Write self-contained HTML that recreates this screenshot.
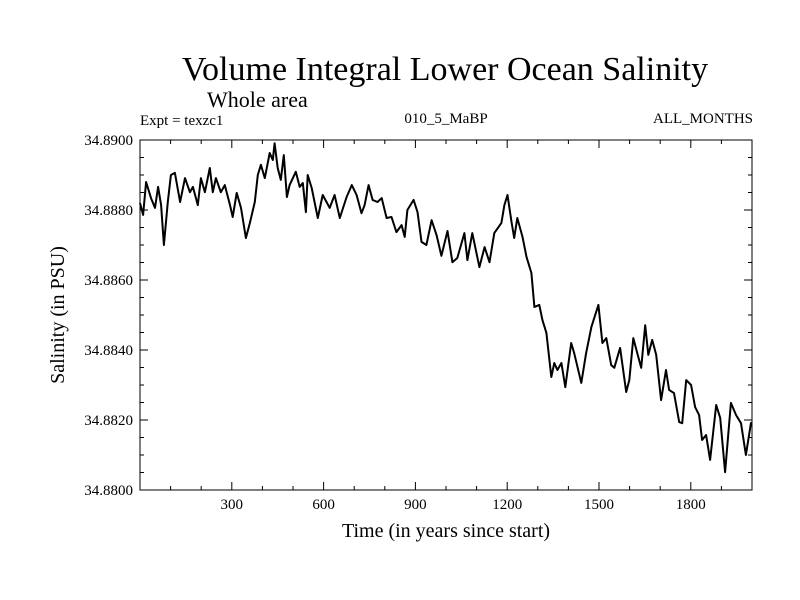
<!DOCTYPE html>
<html><head><meta charset="utf-8"><style>
body{margin:0;background:#fff}
svg{display:block;font-family:"Liberation Serif",serif}
</style></head><body>
<svg id="chart" width="800" height="600" viewBox="0 0 800 600">
<rect width="800" height="600" fill="#fff"/>
<text x="445" y="80" font-size="34" text-anchor="middle">Volume Integral Lower Ocean Salinity</text>
<text x="207" y="107" font-size="22">Whole area</text>
<text x="140" y="125" font-size="15">Expt = texzc1</text>
<text x="446" y="123" font-size="15" text-anchor="middle">010_5_MaBP</text>
<text x="753" y="123" font-size="15" text-anchor="end">ALL_MONTHS</text>
<text x="446" y="537" font-size="20" text-anchor="middle">Time (in years since start)</text>
<text x="0" y="0" font-size="20" text-anchor="middle" transform="translate(64,315) rotate(-90)">Salinity (in PSU)</text>
<g id="axes"></g>
<path id="series" fill="none" stroke="#000" stroke-width="2" stroke-linejoin="round"/>
<rect x="140" y="140" width="612" height="350" fill="none" stroke="#000" stroke-width="1"/>
</svg>
<script>
const years=[0,10,20,36,49,59,69,78,91,101,114,131,147,163,173,189,199,212,228,238,248,264,277,294,303,316,330,346,359,375,385,395,408,424,434,440,450,460,470,480,489,509,522,532,542,548,561,581,597,620,636,653,675,692,708,724,734,747,760,776,790,806,822,838,855,865,874,894,907,920,936,953,969,985,1005,1021,1037,1060,1070,1086,1109,1126,1142,1158,1181,1191,1201,1214,1223,1233,1250,1263,1279,1289,1305,1315,1328,1344,1354,1364,1377,1390,1409,1419,1442,1458,1475,1498,1511,1524,1540,1550,1569,1589,1599,1612,1625,1638,1651,1661,1674,1687,1703,1719,1729,1745,1762,1772,1785,1801,1814,1827,1837,1850,1863,1883,1896,1912,1931,1948,1964,1980,1997];
const salinity=[34.88820,34.88786,34.88880,34.88834,34.88806,34.88866,34.88814,34.88700,34.88823,34.88900,34.88906,34.88823,34.88891,34.88851,34.88866,34.88814,34.88891,34.88851,34.88920,34.88851,34.88891,34.88851,34.88871,34.88814,34.88780,34.88849,34.88806,34.88720,34.88763,34.88823,34.88900,34.88929,34.88891,34.88963,34.88943,34.88991,34.88920,34.88886,34.88957,34.88837,34.88871,34.88909,34.88866,34.88877,34.88794,34.88900,34.88863,34.88777,34.88843,34.88806,34.88843,34.88777,34.88837,34.88871,34.88843,34.88791,34.88814,34.88871,34.88829,34.88823,34.88834,34.88777,34.88780,34.88737,34.88757,34.88723,34.88800,34.88829,34.88794,34.88709,34.88700,34.88771,34.88729,34.88669,34.88740,34.88651,34.88663,34.88734,34.88657,34.88734,34.88637,34.88694,34.88651,34.88734,34.88763,34.88814,34.88843,34.88766,34.88720,34.88777,34.88723,34.88666,34.88620,34.88523,34.88529,34.88486,34.88449,34.88323,34.88363,34.88343,34.88363,34.88294,34.88420,34.88391,34.88306,34.88391,34.88466,34.88529,34.88420,34.88434,34.88357,34.88349,34.88406,34.88280,34.88314,34.88434,34.88391,34.88349,34.88471,34.88386,34.88429,34.88386,34.88257,34.88343,34.88286,34.88277,34.88194,34.88191,34.88314,34.88300,34.88237,34.88214,34.88143,34.88157,34.88086,34.88243,34.88206,34.88051,34.88249,34.88214,34.88191,34.88100,34.88194];
const xTickLabels=[300,600,900,1200,1500,1800];
const yTickLabels=["34.8800","34.8820","34.8840","34.8860","34.8880","34.8900"];

const X0=140,X1=752,Y0=140,Y1=490,XMIN=0,XMAX=2000,YMIN=34.88,YMAX=34.89;
function xs(v){return X0+(v-XMIN)/(XMAX-XMIN)*(X1-X0);}
function ys(v){return Y1-(v-YMIN)/(YMAX-YMIN)*(Y1-Y0);}
const NS="http://www.w3.org/2000/svg";
const axes=document.getElementById('axes');
function line(x1,y1,x2,y2,name){
  const l=document.createElementNS(NS,'line');
  l.setAttribute('x1',x1);l.setAttribute('y1',y1);l.setAttribute('x2',x2);l.setAttribute('y2',y2);
  l.setAttribute('stroke','#000');l.setAttribute('stroke-width','1');
  
  
  axes.appendChild(l);
}
function text(x,y,s,anchor,name){
  const t=document.createElementNS(NS,'text');
  t.setAttribute('x',x);t.setAttribute('y',y);t.setAttribute('font-size','15');t.setAttribute('text-anchor',anchor);
  t.textContent=s;
  
  
  axes.appendChild(t);
}
for(let v=100;v<XMAX;v+=100){
  const x=xs(v),len=(v%300===0)?8:4;
  line(x,Y1,x,Y1-len,'x-tick');
  line(x,Y0,x,Y0+len,'x-tick-top');
}
xTickLabels.forEach(v=>text(xs(v),509,String(v),'middle','x-tick-label'));
for(let i=0;i<=20;i++){
  const v=YMIN+i*0.0005,y=ys(v),len=(i%4===0)?8:4;
  line(X0,y,X0+len,y,'y-tick');
  line(X1,y,X1-len,y,'y-tick-right');
}
yTickLabels.forEach(s=>text(133,ys(parseFloat(s))+5,s,'end','y-tick-label'));
let d='';
years.forEach((yr,i)=>{d+=(i?'L':'M')+xs(yr).toFixed(1)+','+ys(salinity[i]).toFixed(1);});
document.getElementById('series').setAttribute('d',d);
</script>
</body></html>
